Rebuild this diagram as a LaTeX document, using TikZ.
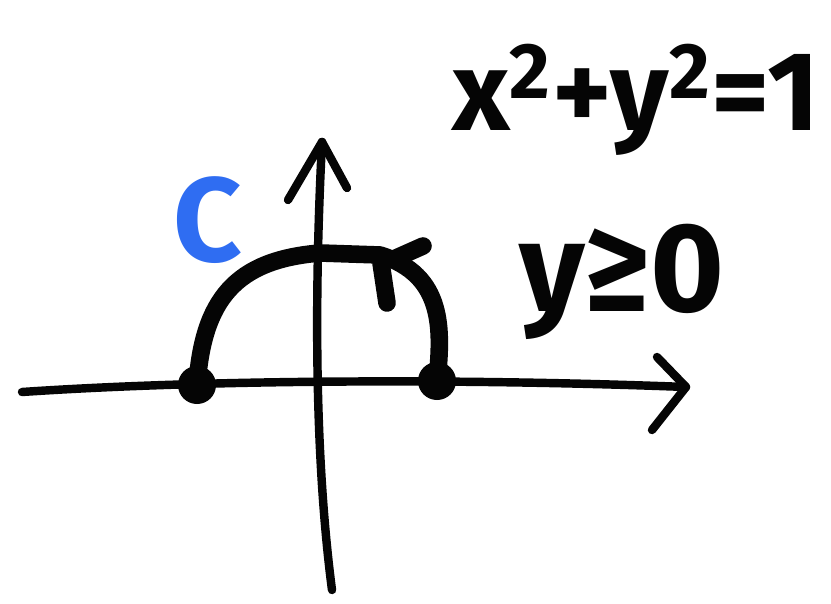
\documentclass[tikz,border=0pt]{standalone}
\usepackage{fontspec}
\setmainfont{Fira Sans}
\definecolor{SketchInk}{HTML}{050505}
\definecolor{SketchBlue}{HTML}{2F6DF2}
\definecolor{SketchPaper}{HTML}{FFFFFF}

\begin{document}
\begin{tikzpicture}[x=0.01cm,y=-0.01cm,
    axis/.style={SketchInk,line width=2.4pt,line cap=round,line join=round},
    curve/.style={SketchInk,line width=5pt,line cap=round,line join=round},
    enddot/.style={circle,fill=SketchInk,inner sep=0pt,minimum size=0.38cm},
    hand/.style={SketchInk,font=\fontsize{32}{36}\selectfont\bfseries}]
      \fill[SketchPaper] (0,0) rectangle (831,604);
      \useasboundingbox (0,0) rectangle (831,604);
      % axes
      \coordinate (xstart) at (22,392);
      \coordinate (xend) at (686,387);
      \coordinate (ystart) at (332,590);
      \coordinate (yend) at (322,142);
      \draw[axis] (xstart) .. controls (200,380) and (450,378) .. (xend);
      \draw[axis] (657,357) -- (xend) -- (652,430);
      \draw[axis] (ystart) .. controls (315,460) and (314,300) .. (yend);
      \draw[axis] (288,200) -- (yend) -- (347,188);
      % half circle
      \node[enddot] (left) at (197,385) {};
      \node[enddot] (right) at (437,381) {};
      \draw[curve] (left.center) .. controls (203,300) and (235,260) .. (320,253)
        -- (380,255) .. controls (445,275) and (442,330) .. (right.center);
      \draw[curve] (423,246) -- (396,258);
      \draw[curve] (381,263) -- (387,303);
      % labels
      \node[text=SketchBlue,font=\fontsize{34}{38}\selectfont\bfseries] (curvename) at (208,220) {C};
      \node[hand] (circleeq) at (636,100) {x\textsuperscript{2}+y\textsuperscript{2}=1};
      \node[hand,font=\fontsize{36}{40}\selectfont\bfseries] (halfcond) at (622,282) {y≥0};
    \end{tikzpicture}
\end{document}
